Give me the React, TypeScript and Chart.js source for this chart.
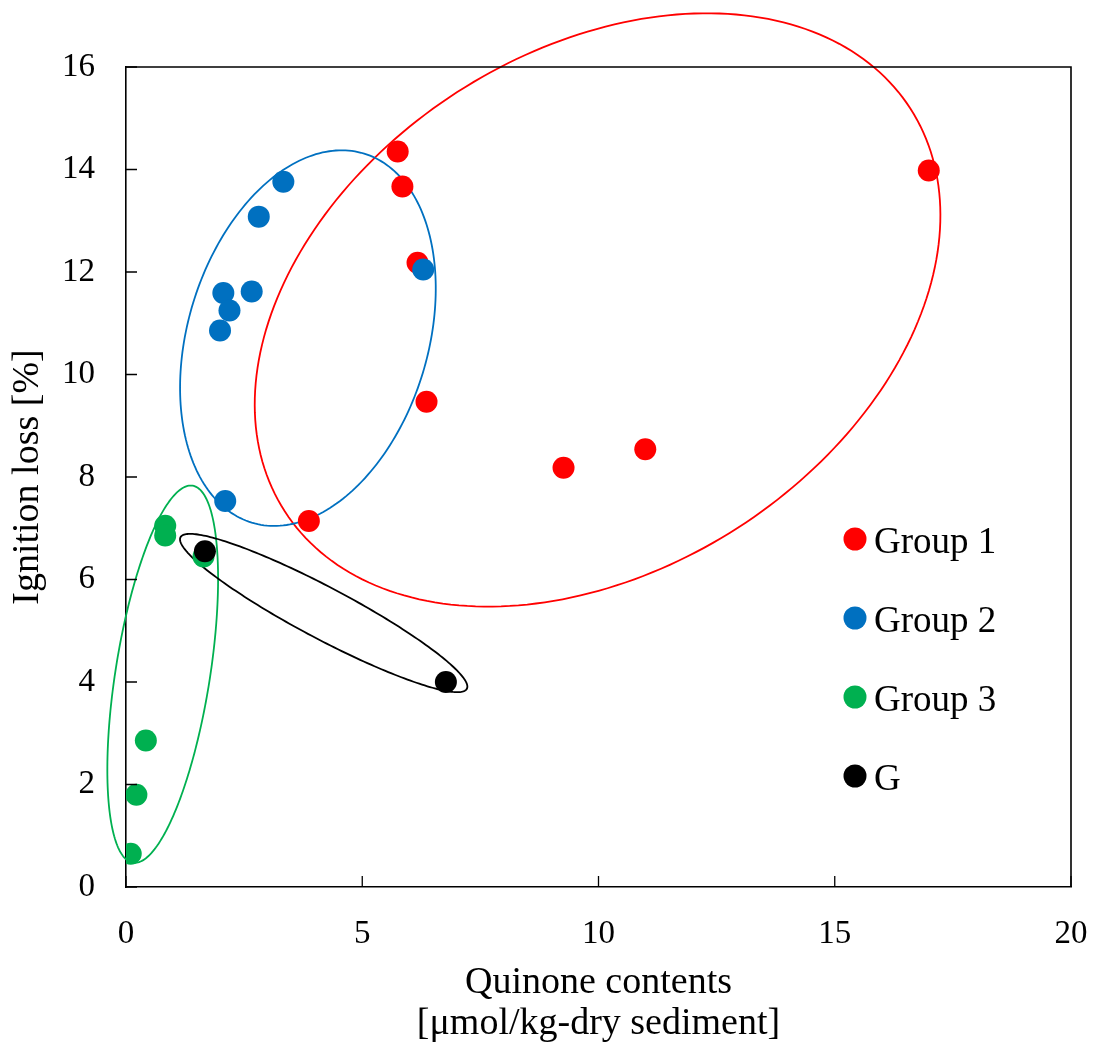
import { useEffect, useRef } from 'react';
import { Chart, registerables } from 'chart.js';

Chart.register(...registerables);

const FONT = "'Liberation Serif', 'Times New Roman', serif";

// Series labels and colours
const seriesLabels = ['Group 1', 'Group 2', 'Group 3', 'G'];
const seriesColors = ['#FF0000', '#0070C0', '#00B050', '#000000'];

// Quinone contents (x) and ignition loss (y) for each group
const group1X = [5.75, 5.85, 6.17, 6.36, 3.87, 9.26, 10.99, 16.99];
const group1Y = [14.35, 13.67, 12.18, 9.47, 7.14, 8.18, 8.54, 13.98];
const group2X = [3.33, 2.81, 6.29, 2.06, 2.66, 2.19, 1.99, 2.10];
const group2Y = [13.76, 13.08, 12.05, 11.59, 11.62, 11.25, 10.86, 7.53];
const group3X = [0.83, 0.83, 1.64, 0.42, 0.22, 0.10];
const group3Y = [7.05, 6.86, 6.45, 2.86, 1.80, 0.65];
const gX = [1.67, 6.77];
const gY = [6.55, 4.0];

// Axis ticks
const xTicks = [0, 5, 10, 15, 20];
const yTicks = [0, 2, 4, 6, 8, 10, 12, 14, 16];

// Group outlines: centre and two half-axis vectors, in data units
const ellipseCenters = [
  [9.98, 11.26],
  [3.85, 10.71],
  [0.777, 4.152],
  [4.184, 5.346],
];
const ellipseAxisA = [
  [6.62, 3.93],
  [1.19, 3.6],
  [0.632, 3.678],
  [3.03, -1.479],
];
const ellipseAxisB = [
  [2.97, -4.25],
  [2.43, -0.685],
  [0.987, -0.144],
  [-0.255, -0.445],
];

const zip = (xs: number[], ys: number[]) => xs.map((x, i) => ({ x, y: ys[i] }));
const seriesData = [zip(group1X, group1Y), zip(group2X, group2Y), zip(group3X, group3Y), zip(gX, gY)];
// later groups are painted on top of earlier ones
const drawOrder = [3, 2, 1, 0];

const ellipsePlugin = {
  id: 'groupEllipses',
  beforeDatasetsDraw(chart: any) {
    const { ctx, scales } = chart;
    const xs = scales.x;
    const ys = scales.y;
    ctx.save();
    for (let i = 0; i < ellipseCenters.length; i++) {
      const [cx, cy] = ellipseCenters[i];
      const [ax, ay] = ellipseAxisA[i];
      const [bx, by] = ellipseAxisB[i];
      ctx.beginPath();
      const steps = 240;
      for (let s = 0; s <= steps; s++) {
        const t = (s / steps) * Math.PI * 2;
        const dx = cx + ax * Math.cos(t) + bx * Math.sin(t);
        const dy = cy + ay * Math.cos(t) + by * Math.sin(t);
        const px = xs.getPixelForValue(dx);
        const py = ys.getPixelForValue(dy);
        if (s === 0) ctx.moveTo(px, py);
        else ctx.lineTo(px, py);
      }
      ctx.closePath();
      ctx.strokeStyle = seriesColors[i];
      ctx.lineWidth = 1.8;
      ctx.stroke();
    }
    ctx.restore();
  },
};

const framePlugin = {
  id: 'frameAndTicks',
  afterDatasetsDraw(chart: any) {
    const { ctx, chartArea, scales } = chart;
    const { left, right, top, bottom } = chartArea;
    ctx.save();
    ctx.strokeStyle = '#000';
    ctx.lineWidth = 1.6;
    ctx.beginPath();
    ctx.moveTo(left, top);
    ctx.lineTo(right, top);
    ctx.lineTo(right, bottom);
    ctx.stroke();
    const len = 11;
    ctx.lineWidth = 1.3;
    ctx.beginPath();
    for (const v of xTicks) {
      const px = scales.x.getPixelForValue(v);
      ctx.moveTo(px, bottom);
      ctx.lineTo(px, bottom - len);
    }
    for (const v of yTicks) {
      const py = scales.y.getPixelForValue(v);
      ctx.moveTo(left, py);
      ctx.lineTo(left + len, py);
    }
    ctx.stroke();
    ctx.restore();
  },
};

const legendPlugin = {
  id: 'insideLegend',
  afterDraw(chart: any) {
    const { ctx, chartArea } = chart;
    const x0 = chartArea.right - 216;
    const y0 = chartArea.top + 472;
    const step = 79;
    ctx.save();
    ctx.font = `37px ${FONT}`;
    ctx.textAlign = 'left';
    ctx.textBaseline = 'alphabetic';
    chart.data.datasets.forEach((ds: any, i: number) => {
      const y = y0 + i * step;
      ctx.beginPath();
      ctx.arc(x0, y, 11.5, 0, Math.PI * 2);
      ctx.fillStyle = ds.backgroundColor;
      ctx.fill();
      ctx.fillStyle = '#000';
      ctx.fillText(ds.label, x0 + 19, y + 13.5);
    });
    ctx.restore();
  },
};

export default function App() {
  const canvasRef = useRef<HTMLCanvasElement | null>(null);

  useEffect(() => {
    if (!canvasRef.current) return;
    const chart = new Chart(canvasRef.current, {
      type: 'scatter',
      data: {
        datasets: seriesLabels.map((label, i) => ({
          label,
          data: seriesData[i],
          backgroundColor: seriesColors[i],
          borderColor: seriesColors[i],
          borderWidth: 0,
          pointRadius: 11,
          pointHoverRadius: 11,
          order: drawOrder[i],
        })),
      },
      options: {
        animation: false,
        responsive: false,
        devicePixelRatio: 1,
        events: [],
        layout: { padding: { top: 67, right: 27, left: 0, bottom: 0 } },
        plugins: {
          legend: { display: false },
          tooltip: { enabled: false },
        },
        scales: {
          x: {
            type: 'linear',
            min: 0,
            max: 20,
            afterFit(scale: any) {
              scale.height = 163;
              scale.paddingLeft = 0;
              scale.paddingRight = 0;
            },
            afterBuildTicks(scale: any) {
              scale.ticks = xTicks.map((v) => ({ value: v }));
            },
            grid: { display: false },
            border: { display: true, color: '#000', width: 1.6 },
            ticks: {
              color: '#000',
              font: { family: FONT, size: 33 },
              padding: 20,
              maxRotation: 0,
              autoSkip: false,
            },
            title: {
              display: true,
              text: ['Quinone contents', '[\u03bcmol/kg-dry sediment]'],
              color: '#000',
              font: { family: FONT, size: 38, lineHeight: 1.08 },
              padding: { top: 0, bottom: 5.5 },
            },
          },
          y: {
            type: 'linear',
            min: 0,
            max: 16,
            afterFit(scale: any) {
              scale.width = 126;
            },
            afterBuildTicks(scale: any) {
              scale.ticks = yTicks.map((v) => ({ value: v }));
            },
            grid: { display: false },
            border: { display: true, color: '#000', width: 1.6 },
            ticks: {
              color: '#000',
              font: { family: FONT, size: 33 },
              padding: 23,
              autoSkip: false,
            },
            title: {
              display: true,
              text: 'Ignition loss [%]',
              color: '#000',
              font: { family: FONT, size: 38, lineHeight: 1.08 },
              padding: { top: 7.5, bottom: 0 },
            },
          },
        },
      },
      plugins: [ellipsePlugin, framePlugin, legendPlugin],
    } as any);
    return () => chart.destroy();
  }, []);

  return (
    <div style={{ position: 'absolute', left: 0, top: 0, width: 1098, height: 1050, background: '#fff' }}>
      <canvas ref={canvasRef} width={1098} height={1050} style={{ display: 'block' }} />
    </div>
  );
}
